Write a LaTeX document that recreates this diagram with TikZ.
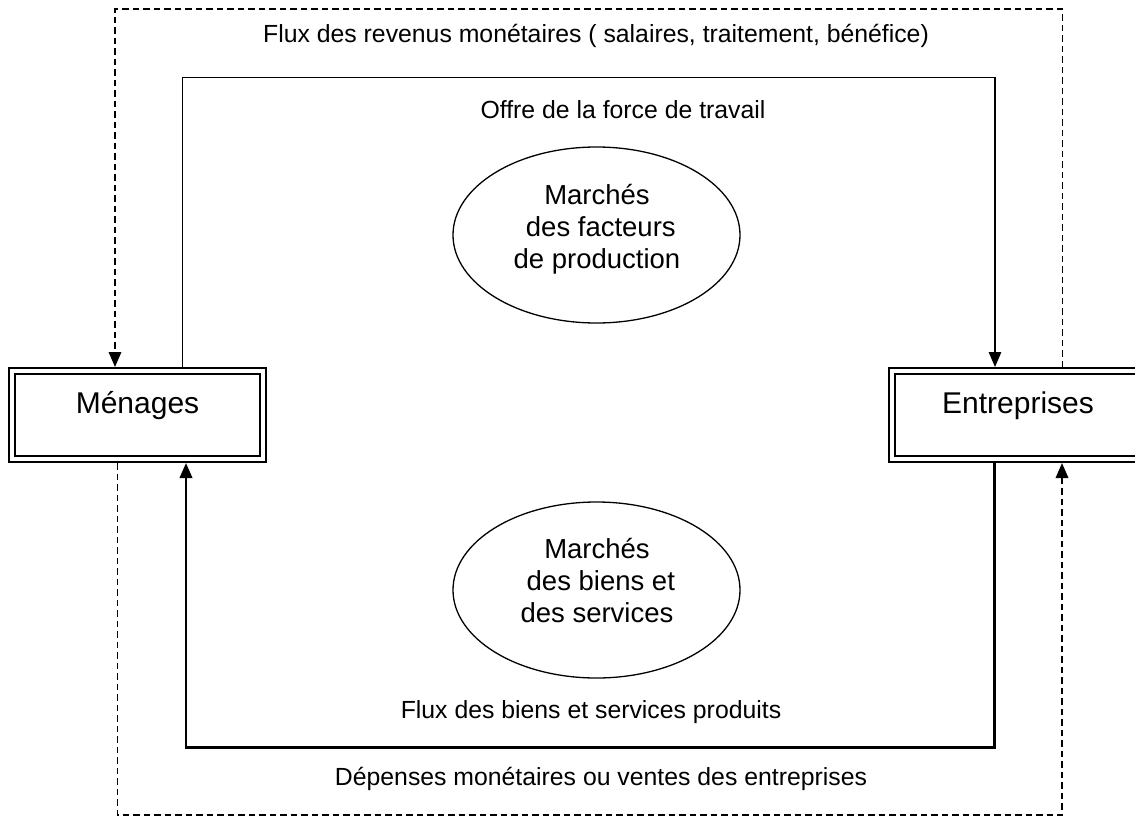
\documentclass[tikz,border=0pt]{standalone}
\usepackage{fontspec}
\setmainfont{Liberation Sans}
\usetikzlibrary{arrows.meta,shapes.geometric}

\begin{document}
\begin{tikzpicture}[x=1pt,y=1pt,>={Triangle[length=15pt,width=12.5pt]}]
\tikzstyle{every node}+=[inner sep=0pt]
\tikzstyle{agent}=[draw=black,double,line width=2pt,double distance=4pt,outer sep=4pt,text height=42pt,text depth=46pt,font=\fontsize{30}{36}\selectfont]
\tikzstyle{market}=[draw=black,ellipse,line width=1.3pt,minimum width=287pt,minimum height=176pt]
\tikzstyle{markettext}=[align=center,anchor=north,font=\fontsize{27.5}{32}\selectfont]
\tikzstyle{caption}=[anchor=base,font=\fontsize{24.8}{30}\selectfont]
\tikzstyle{money}=[black,line width=1.7pt,dash pattern=on 6.5pt off 4pt]
\tikzstyle{work}=[black,line width=1.4pt]
\tikzstyle{goods}=[black,line width=2.2pt]
\useasboundingbox (0,0) rectangle (1135,-819);
\node [agent,minimum width=250.4pt] (men) at (137.5,-415) {Ménages};
\node [agent,minimum width=252pt] (ent) at (1018,-415) {Entreprises};
\node [market] (fmarket) at (596.5,-235) {};
\node [market] (gmarket) at (596.5,-590) {};
\node [markettext] (ftext) at (597,-184) {Marchés\\\mbox{}\ des facteurs\\de production};
\node [markettext] (gtext) at (597,-538) {Marchés\\\mbox{}\ des biens et\\des services};
\node [caption] (income) at (596,-42) {Flux des revenus monétaires ( salaires, traitement, bénéfice)};
\node [caption] (labour) at (623,-118) {Offre de la force de travail};
\node [caption] (output) at (591,-718) {Flux des biens et services produits};
\node [caption] (spending) at (601,-785) {Dépenses monétaires ou ventes des entreprises};
\coordinate (itl) at (115,-9.3);
\coordinate (itr) at (1062.5,-9.3);
\coordinate (ltl) at (182.5,-77.3);
\coordinate (ltr) at (995,-77.3);
\coordinate (gbl) at (186,-747.5);
\coordinate (gbr) at (994.5,-747.5);
\coordinate (sbl) at (117.5,-815);
\coordinate (sbr) at (1062,-815);
\draw [money,->] (ent.north -| itr) -- (itr) -- (itl) -- (men.north -| itl);
\draw [work,->] (men.north -| ltl) -- (ltl) -- (ltr) -- (ent.north -| ltr);
\draw [goods,->] (ent.south -| gbr) -- (gbr) -- (gbl) -- (men.south -| gbl);
\draw [money,->] (men.south -| sbl) -- (sbl) -- (sbr) -- (ent.south -| sbr);
\end{tikzpicture}
\end{document}
